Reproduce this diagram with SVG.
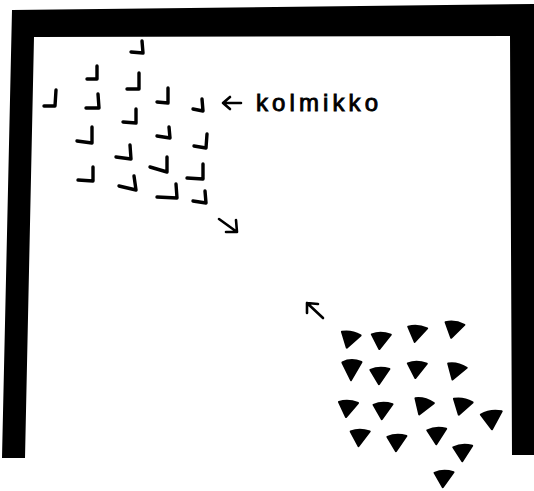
<svg xmlns="http://www.w3.org/2000/svg" width="534" height="491" viewBox="0 0 534 491">
<style>
.frame{fill:#000}
.ck{fill:none;stroke:#000;stroke-width:3.4;stroke-linecap:round;stroke-linejoin:round}
.ar{fill:none;stroke:#000;stroke-width:2.6;stroke-linecap:round;stroke-linejoin:round}
.tri{fill:#000;stroke:#000;stroke-width:2;stroke-linejoin:round}
.lbl{font-family:"Liberation Sans",Arial,sans-serif;font-size:24px;fill:#000;stroke:#000;stroke-width:0.9}
</style>
<defs>
<path id="t" d="M-9,-6 Q0,-9 10,-5 L-2,9 Z"/>
</defs>
<rect width="534" height="491" fill="#fff"/>
<path class="frame" d="M12,10 L534,4 L534,455 L512,455 L510,36 L34,37 L25,458 L2,458 Z"/>
<g id="checks">
<path class="ck" d="M131,52 L143,53 L142,41"/>
<path class="ck" d="M87,79 L97,79 L97,66"/>
<path class="ck" d="M127,89 L139,89 L139,73"/>
<path class="ck" d="M44,106 L55,106 L56,90"/>
<path class="ck" d="M86,108 L99,108 L98,94"/>
<path class="ck" d="M157,102 L168,103 L168,88"/>
<path class="ck" d="M193,109 L203,111 L202,99"/>
<path class="ck" d="M123,122 L136,123 L136,109"/>
<path class="ck" d="M77,141 L92,143 L92,127"/>
<path class="ck" d="M157,136 L170,138 L169,127"/>
<path class="ck" d="M194,146 L206,148 L207,134"/>
<path class="ck" d="M116,157 L131,159 L130,145"/>
<path class="ck" d="M150,167 L167,172 L167,157"/>
<path class="ck" d="M187,178 L203,179 L203,164"/>
<path class="ck" d="M78,180 L93,181 L93,167"/>
<path class="ck" d="M119,186 L136,190 L134,176"/>
<path class="ck" d="M157,197 L177,198 L176,184"/>
<path class="ck" d="M193,201 L206,203 L205,191"/>
</g>
<g id="arrows">
<path class="ar" d="M219,219 L237,232 M226,232 L237,232 L236,220"/>
<path class="ar" d="M223,103 L241,103 M230,97 L223,103 L230,109"/>
<path class="ar" d="M323,318 L307,303 M307,313 L307,303 L318,304"/>
</g>
<text class="lbl" x="256" y="111" textLength="122" lengthAdjust="spacing">kolmikko</text>
<g id="triangles">
<use href="#t" class="tri" transform="translate(350,339) rotate(8)"/>
<use href="#t" class="tri" transform="translate(381,340) rotate(-2)"/>
<use href="#t" class="tri" transform="translate(417,333) rotate(2)"/>
<use href="#t" class="tri" transform="translate(454,329) rotate(5)"/>
<use href="#t" class="tri" transform="translate(352,369) rotate(-5) scale(1,1.2)"/>
<use href="#t" class="tri" transform="translate(380,375) rotate(-6)"/>
<use href="#t" class="tri" transform="translate(417,369) rotate(-2)"/>
<use href="#t" class="tri" transform="translate(456,371) rotate(10)"/>
<use href="#t" class="tri" transform="translate(348,408) rotate(0)"/>
<use href="#t" class="tri" transform="translate(383,410) rotate(-5)"/>
<use href="#t" class="tri" transform="translate(423,406) rotate(12)"/>
<use href="#t" class="tri" transform="translate(462,406) rotate(8)"/>
<use href="#t" class="tri" transform="translate(492,419) rotate(-12) scale(1.1)"/>
<use href="#t" class="tri" transform="translate(360,437) rotate(-3)"/>
<use href="#t" class="tri" transform="translate(397,442) rotate(-6)"/>
<use href="#t" class="tri" transform="translate(437,435) rotate(-8)"/>
<use href="#t" class="tri" transform="translate(463,452) rotate(-8)"/>
<use href="#t" class="tri" transform="translate(444,478) rotate(-5)"/>
</g>
</svg>
